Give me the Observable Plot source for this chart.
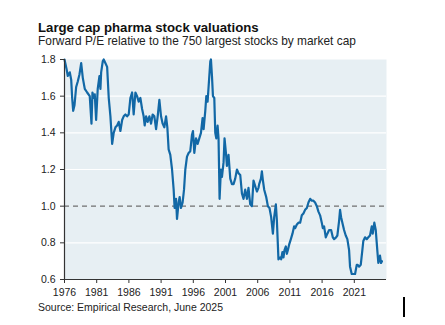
<!DOCTYPE html>
<html>
<head>
<meta charset="utf-8">
<script src="https://cdn.jsdelivr.net/npm/d3@7"></script>
<script src="https://cdn.jsdelivr.net/npm/@observablehq/plot@0.6"></script>
<style>
  html, body { margin: 0; padding: 0; background: #fff; }
  body { width: 445px; height: 325px; position: relative; overflow: hidden; font-family: "Liberation Sans", Arial, sans-serif; }
  .t { position: absolute; left: 38px; white-space: nowrap; line-height: 1; color: #111; }
  #title { top: 21.1px; font-size: 13.2px; font-weight: bold; }
  #subtitle { top: 35.6px; font-size: 11.9px; color: #222; }
  #source { top: 301.8px; font-size: 10.5px; color: #222; }
  #chart { position: absolute; left: 0; top: 50px; }
  #bar { position: absolute; left: 403px; top: 297px; width: 2px; height: 20px; background: #000; }
</style>
</head>
<body>
<div class="t" id="title">Large cap pharma stock valuations</div>
<div class="t" id="subtitle">Forward P/E relative to the 750 largest stocks by market cap</div>
<div id="chart"></div>
<div class="t" id="source">Source: Empirical Research, June 2025</div>
<div id="bar"></div>
<script>
const years = [
  1976.00,1976.31,1976.51,1976.82,1977.04,1977.19,1977.35,1977.55,1977.81,1978.06,
  1978.33,1978.59,1978.84,1979.15,1979.52,1979.92,1980.19,1980.34,1980.54,1980.70,
  1980.91,1981.16,1981.43,1981.58,1981.69,1981.94,1982.09,1982.36,1982.62,1982.87,
  1983.13,1983.40,1983.64,1983.91,1984.17,1984.42,1984.68,1984.95,1985.19,1985.46,
  1985.72,1985.97,1986.23,1986.50,1986.74,1987.01,1987.27,1987.52,1987.78,1988.05,
  1988.29,1988.45,1988.67,1988.91,1989.18,1989.44,1989.69,1989.95,1990.22,1990.47,
  1990.73,1990.99,1991.24,1991.50,1991.77,1991.97,1992.17,1992.43,1992.70,1992.95,
  1993.10,1993.32,1993.47,1993.72,1993.88,1994.09,1994.34,1994.56,1994.76,1995.02,
  1995.27,1995.53,1995.80,1995.95,1996.16,1996.42,1996.67,1996.93,1997.19,1997.44,
  1997.60,1997.86,1998.02,1998.22,1998.43,1998.64,1998.74,1998.90,1999.05,1999.26,
  1999.41,1999.57,1999.77,1999.92,2000.08,2000.29,2000.45,2000.70,2000.85,2001.07,
  2001.22,2001.47,2001.74,2002.00,2002.25,2002.51,2002.78,2003.02,2003.29,2003.55,
  2003.80,2004.06,2004.33,2004.57,2004.84,2005.10,2005.35,2005.61,2005.88,2006.12,
  2006.23,2006.50,2006.65,2006.81,2007.01,2007.32,2007.58,2007.83,2008.09,2008.36,
  2008.56,2008.82,2008.98,2009.13,2009.22,2009.49,2009.64,2009.84,2010.00,2010.16,
  2010.37,2010.53,2010.68,2010.88,2011.15,2011.40,2011.66,2011.81,2012.08,2012.33,
  2012.59,2012.85,2013.10,2013.36,2013.63,2013.88,2014.14,2014.40,2014.65,2014.91,
  2015.18,2015.43,2015.69,2015.95,2016.11,2016.31,2016.57,2016.82,2017.09,2017.40,
  2017.66,2017.86,2018.17,2018.37,2018.64,2018.79,2018.95,2019.21,2019.41,2019.67,
  2019.92,2020.19,2020.34,2020.60,2020.85,2021.12,2021.38,2021.53,2021.74,2022.00,
  2022.25,2022.40,2022.67,2022.93,2023.18,2023.44,2023.71,2023.86,2024.11,2024.33,
  2024.57,2024.73,2024.99,2025.15,2025.30
];
const values = [
  1.80,1.75,1.71,1.73,1.69,1.59,1.52,1.55,1.65,1.68,
  1.72,1.78,1.70,1.64,1.62,1.60,1.45,1.62,1.59,1.61,
  1.47,1.64,1.71,1.64,1.73,1.79,1.80,1.78,1.76,1.59,
  1.49,1.34,1.40,1.43,1.44,1.46,1.41,1.47,1.49,1.50,
  1.49,1.50,1.59,1.62,1.50,1.62,1.60,1.57,1.59,1.53,
  1.49,1.44,1.49,1.46,1.49,1.45,1.50,1.49,1.42,1.49,
  1.58,1.49,1.45,1.43,1.49,1.43,1.31,1.28,1.20,1.09,
  0.99,1.04,0.93,1.02,1.05,0.99,1.02,1.09,1.20,1.27,
  1.29,1.30,1.39,1.41,1.29,1.37,1.34,1.37,1.40,1.48,
  1.42,1.52,1.60,1.57,1.68,1.79,1.80,1.71,1.60,1.59,
  1.40,1.37,1.44,1.37,1.04,1.20,1.16,1.24,1.37,1.29,
  1.22,1.28,1.15,1.12,1.12,1.15,1.20,1.18,1.17,1.07,
  1.04,1.09,1.04,1.10,1.01,1.00,1.14,1.11,1.08,1.10,
  1.12,1.15,1.19,1.14,1.09,1.05,1.00,0.99,0.94,0.85,
  0.94,1.01,0.92,0.79,0.71,0.72,0.71,0.75,0.72,0.76,
  0.78,0.74,0.76,0.79,0.82,0.85,0.89,0.88,0.90,0.91,
  0.91,0.95,0.96,0.98,0.99,1.02,1.04,1.03,1.03,1.02,
  1.00,0.97,0.95,0.91,0.88,0.89,0.83,0.85,0.87,0.87,
  0.83,0.82,0.83,0.84,0.92,0.98,0.94,0.90,0.87,0.84,
  0.82,0.76,0.67,0.63,0.63,0.63,0.68,0.68,0.67,0.68,
  0.76,0.81,0.83,0.82,0.83,0.84,0.89,0.85,0.91,0.87,
  0.76,0.69,0.73,0.69,0.70
];
const xTicks = [1976, 1981, 1986, 1991, 1996, 2001, 2006, 2011, 2016, 2021];
const yTicks = [0.6, 0.8, 1.0, 1.2, 1.4, 1.6, 1.8];
const gridTicks = [0.8, 1.2, 1.4, 1.6];
const reference = [1.0];

const data = years.map((y, i) => ({year: y, value: values[i]}));

const chart = Plot.plot({
  width: 445,
  height: 260,
  marginLeft: 64,
  marginRight: 59,
  marginTop: 9,
  marginBottom: 31,
  style: {fontFamily: "'Liberation Sans', Arial, sans-serif", fontSize: "10.5px", color: "#222", background: "transparent"},
  x: {domain: [1976, 2026]},
  y: {domain: [0.6, 1.8]},
  marks: [
    Plot.frame({fill: "#e7eff3", stroke: null}),
    Plot.gridY(gridTicks, {stroke: "#ffffff", strokeOpacity: 1, strokeWidth: 1.2}),
    Plot.ruleY(reference, {stroke: "#707070", strokeDasharray: "5,4", strokeWidth: 1.3}),
    Plot.line(data, {x: "year", y: "value", stroke: "#1268a6", strokeWidth: 2.2, strokeLinejoin: "round"}),
    Plot.ruleX([1976], {stroke: "#333", strokeWidth: 1.2}),
    Plot.ruleY([0.6], {stroke: "#333", strokeWidth: 1.2}),
    Plot.axisY(yTicks, {tickSize: 4, tickPadding: 5, tickFormat: d => d.toFixed(1), label: null, stroke: "#333"}),
    Plot.axisX(xTicks, {tickSize: 4, tickPadding: 5, tickFormat: d => String(d), label: null, stroke: "#333"})
  ]
});
document.getElementById("chart").appendChild(chart);
</script>
</body>
</html>
